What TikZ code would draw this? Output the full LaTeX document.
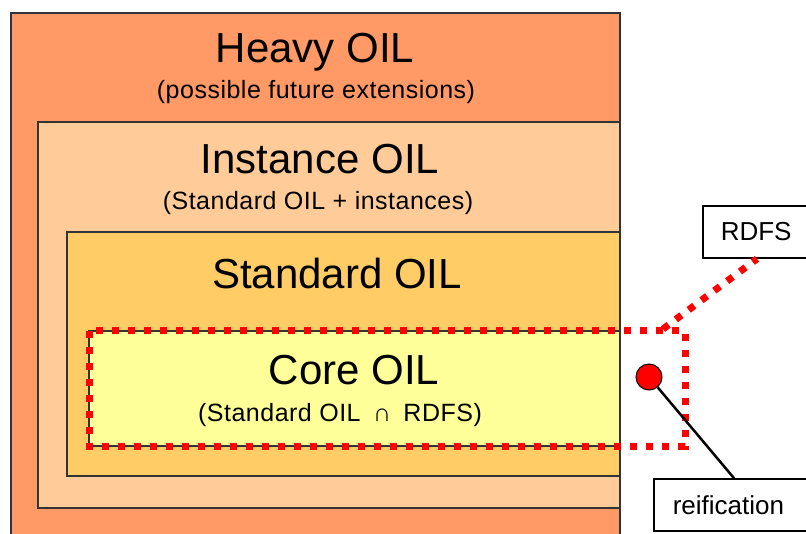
\documentclass[tikz,border=0pt]{standalone}
\usepackage{fontspec}
\setmainfont{Liberation Sans}
\usetikzlibrary{positioning}

\definecolor{heavyfill}{HTML}{FF9966}
\definecolor{instfill}{HTML}{FFCC99}
\definecolor{stdfill}{HTML}{FFCC66}
\definecolor{corefill}{HTML}{FFFF99}
\definecolor{edge}{HTML}{333333}

\tikzset{
    layer/.style={draw=edge, line width=1.8pt},
    title/.style={anchor=base, inner sep=0pt, font=\fontsize{42}{50}\selectfont},
    subtitle/.style={anchor=base, inner sep=0pt, font=\fontsize{25}{30}\selectfont\addfontfeature{LetterSpace=2}},
    reddots/.style={draw=red, line width=7pt, dash pattern=on 7pt off 9pt},
    labelbox/.style={draw=black, line width=1.6pt, anchor=west, align=left, inner xsep=18pt,
        minimum height=52pt, text width=120pt, font=\fontsize{26}{30}\selectfont}
}

\begin{document}
\begin{tikzpicture}[x=1pt, y=-1pt]
        \useasboundingbox (0, 0) rectangle (806, 534);
        \clip (0, 0) rectangle (806, 534);
        % nested layers
        \draw[layer, fill=heavyfill] (11, 13) rectangle (620, 570);
        \draw[layer, fill=instfill] (38, 122) rectangle (620, 508);
        \draw[layer, fill=stdfill] (67, 232) rectangle (620, 476);
        \draw[layer, fill=corefill] (89, 331) rectangle (620, 446);
        \node[title] (heavy) at (315, 63) {Heavy OIL};
        \node[subtitle] (heavysub) at (316, 99) {(possible future extensions)};
        \node[title] (inst) at (320, 174) {Instance OIL};
        \node[subtitle] (instsub) at (318, 210) {(Standard OIL + instances)};
        \node[title] (std) at (337, 289) {Standard OIL};
        \node[title] (core) at (354, 385) {Core OIL};
        \node[subtitle] (coresub) at (340, 421) {(Standard OIL\hspace{5pt} ∩\hspace{5pt} RDFS)};
        % RDFS part
        \node[labelbox] (rdfs) at (702, 232) {RDFS};
        \node[labelbox, inner xsep=19pt] (reif) at (653, 505) {reification};
        \draw[reddots] (89, 331) rectangle (685, 446);
        \coordinate (kink) at (663, 329);
        \draw[reddots] (kink) -- ([xshift=55pt]rdfs.south west);
        \node[circle, fill=red, draw=black, line width=1pt, minimum size=26pt, inner sep=0pt] (reifdot) at (649, 377) {};
        \draw[line width=2.5pt] (reifdot) -- ([xshift=81pt]reif.north west);
    \end{tikzpicture}
\end{document}
